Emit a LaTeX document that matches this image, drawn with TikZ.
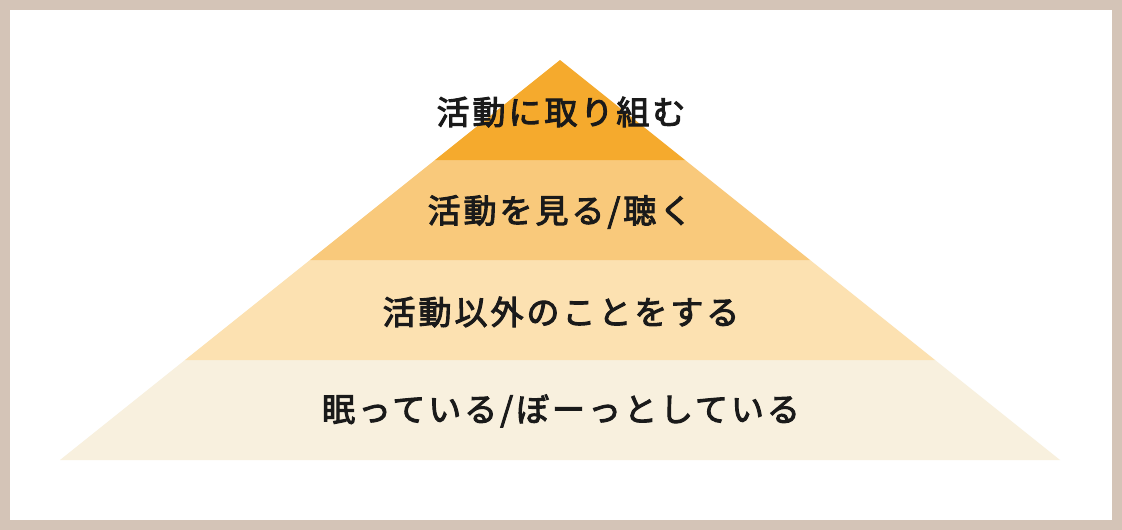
\documentclass[tikz,border=0pt]{standalone}
\usepackage{fontspec}
\newfontfamily\jp{Noto Sans CJK JP}[FakeBold=3,LetterSpace=9]
\definecolor{frame}{HTML}{D4C4B7}
\definecolor{lay1}{HTML}{F5AA2D}
\definecolor{lay2}{HTML}{F9C97B}
\definecolor{lay3}{HTML}{FCE1B1}
\definecolor{lay4}{HTML}{F8F0DE}
\definecolor{ink}{HTML}{1A1A1A}
\tikzset{lbl/.style={text=ink,font=\jp\fontsize{33pt}{40pt}\selectfont,inner sep=0pt,anchor=center}}
\begin{document}
\begin{tikzpicture}[x=1pt,y=-1pt]
\useasboundingbox (0,0) rectangle (1122,530);
\fill[frame] (0,0) rectangle (1122,530);
\fill[white] (10,10) rectangle (1112,520);
\fill[lay4] (185,360) -- (935,360) -- (1060,460) -- (60,460) -- cycle;
\fill[lay3] (310,260) -- (810,260) -- (935,360) -- (185,360) -- cycle;
\fill[lay2] (435,160) -- (685,160) -- (810,260) -- (310,260) -- cycle;
\fill[lay1] (560,60) -- (685,160) -- (435,160) -- cycle;
\node[lbl] (t1) at (561,112) {活動に取り組む};
\node[lbl] (t2) at (560,212) {活動を見る/聴く};
\node[lbl] (t3) at (561,312) {活動以外のことをする};
\node[lbl] (t4) at (561,411) {眠っている/ぼーっとしている};
\end{tikzpicture}
\end{document}
